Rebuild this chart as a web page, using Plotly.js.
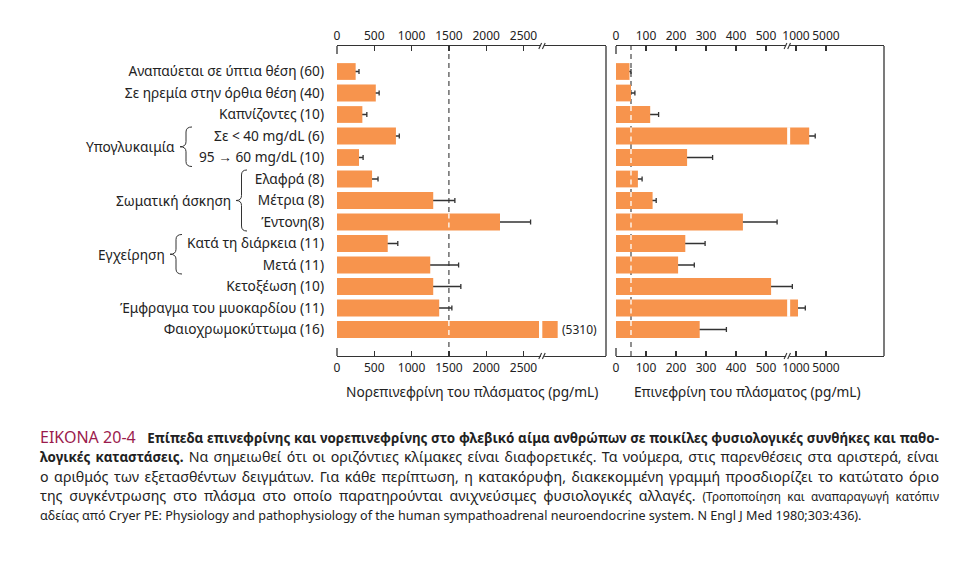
<!DOCTYPE html>
<html><head><meta charset="utf-8">
<script src="https://cdn.plot.ly/plotly-3.0.1.min.js"></script>
<style>html,body{margin:0;padding:0;background:#fff}#chart{width:971px;height:569px}</style>
</head><body><div id="chart"></div>
<script>
// ---------- DATA ----------
const categories = [
  "Αναπαύεται σε ύπτια θέση (60)",
  "Σε ηρεμία στην όρθια θέση (40)",
  "Καπνίζοντες (10)",
  "Σε &lt; 40 mg/dL (6)",
  "95 → 60 mg/dL (10)",
  "Ελαφρά (8)",
  "Μέτρια (8)",
  "Έντονη(8)",
  "Κατά τη διάρκεια (11)",
  "Μετά (11)",
  "Κετοξέωση (10)",
  "Έμφραγμα του μυοκαρδίου (11)",
  "Φαιοχρωμοκύττωμα (16)"
];
const norepinephrine    = [250, 520, 340, 790, 295, 470, 1290, 2185, 680, 1250, 1290, 1370, 5310];
const norepinephrineErr = [45, 45, 60, 45, 55, 80, 290, 410, 135, 380, 370, 170, 0];
const epinephrine       = [45, 50, 114, 2030, 237, 73, 122, 423, 231, 207, 517, 1114, 279];
const epinephrineErr    = [5, 13, 28, 776, 85, 14, 12, 114, 66, 54, 304, 534, 89];
const leftTicks  = [0, 500, 1000, 1500, 2000, 2500];
const rightTicks = [0, 100, 200, 300, 400, 500, 1000, 5000];
const leftThreshold = 1500;
const rightThreshold = 50;
const groupLabels = ["Υπογλυκαιμία", "Σωματική άσκηση", "Εγχείρηση"];
const groupFrom = [3, 5, 8];
const groupTo   = [4, 7, 9];
const labelBig = "(5310)";
const leftTitle = "Νορεπινεφρίνη του πλάσματος (pg/mL)";
const rightTitle = "Επινεφρίνη του πλάσματος (pg/mL)";
const captionLines = [
  "<span style='color:#9b1b4d;font-size:16px'>ΕΙΚΟΝΑ 20-4</span>&nbsp;&nbsp;&nbsp;<b style='font-size:13.4px'>Επίπεδα επινεφρίνης και νορεπινεφρίνης στο φλεβικό αίμα ανθρώπων σε ποικίλες φυσιολογικές συνθήκες και παθο-</b>",
  "<b style='font-size:13.4px'>λογικές καταστάσεις.</b> Να σημειωθεί ότι οι οριζόντιες κλίμακες είναι διαφορετικές. Τα νούμερα, στις παρενθέσεις στα αριστερά, είναι",
  "ο αριθμός των εξετασθέντων δειγμάτων. Για κάθε περίπτωση, η κατακόρυφη, διακεκομμένη γραμμή προσδιορίζει το κατώτατο όριο",
  "της συγκέντρωσης στο πλάσμα στο οποίο παρατηρούνται ανιχνεύσιμες φυσιολογικές αλλαγές. <span style='font-size:11.8px'>(Τροποποίηση και αναπαραγωγή κατόπιν</span>",
  "<span style='font-size:12.6px'>αδείας από Cryer PE: Physiology and pathophysiology of the human sympathoadrenal neuroendocrine system. N Engl J Med 1980;303:436).</span>"
];

// ---------- BROKEN-AXIS SCALES ----------
const L_BRK = 2750, L_K = 0.0813;
function fL(v){ return v <= L_BRK ? v : L_BRK + (v - L_BRK) * L_K; }
const R_BRK = 575, R_DEC = 143;
function fR(v){ return v <= R_BRK ? v : 600 + R_DEC * Math.log10(v / 1000); }

// ---------- GEOMETRY ----------
const W = 971, H = 569;
const px = x => x / W, py = y => 1 - y / H;
const TOP = 46, BOT = 356;
const LX0 = 337, LX1 = 606, RX0 = 616, RX1 = 884;
const ROW0 = 71.5, ROWH = 21.5;
const yTop = -(ROW0 - TOP) / ROWH;
const yBot = (BOT - ROW0) / ROWH;
const LRANGE = [0, (LX1 - LX0) / 0.0746];
const RRANGE = [0, (RX1 - RX0) / 0.3];
const BARW = 0.78;
const ORANGE = '#f7944d', DARK = '#333333', FONT = 'Noto Sans, sans-serif';
const CAP_LEFT = 38, CAP_RIGHT = 937;

const idx = categories.map((_, i) => i);
const errMapped = (vals, errs, f) => vals.map((v, i) => errs[i] > 0 ? f(v + errs[i]) - f(v) : NaN);

const traces = [
  {type:'bar', orientation:'h', x: norepinephrine.map(fL), y: idx, xaxis:'x', yaxis:'y', width: BARW,
   marker:{color:'rgba(0,0,0,0)'}, hoverinfo:'skip', showlegend:false,
   error_x:{type:'data', symmetric:true, array: errMapped(norepinephrine, norepinephrineErr, fL), color:DARK, thickness:1.3, width:2.5}},
  {type:'bar', orientation:'h', x: norepinephrine.map(fL), y: idx, xaxis:'x', yaxis:'y', width: BARW,
   marker:{color:ORANGE}, showlegend:false, text: norepinephrine.map(String), hoverinfo:'text', textposition:'none'},
  {type:'bar', orientation:'h', x: epinephrine.map(fR), y: idx, xaxis:'x2', yaxis:'y2', width: BARW,
   marker:{color:'rgba(0,0,0,0)'}, hoverinfo:'skip', showlegend:false,
   error_x:{type:'data', symmetric:true, array: errMapped(epinephrine, epinephrineErr, fR), color:DARK, thickness:1.3, width:2.5}},
  {type:'bar', orientation:'h', x: epinephrine.map(fR), y: idx, xaxis:'x2', yaxis:'y2', width: BARW,
   marker:{color:ORANGE}, showlegend:false, text: epinephrine.map(String), hoverinfo:'text', textposition:'none'},
  {type:'scatter', x:[], y:[], xaxis:'x3', yaxis:'y', showlegend:false, hoverinfo:'skip'},
  {type:'scatter', x:[], y:[], xaxis:'x4', yaxis:'y2', showlegend:false, hoverinfo:'skip'}
];

const axBase = {showgrid:false, zeroline:false, showline:true, linecolor:DARK, linewidth:1.3,
  ticks:'inside', ticklen:5, tickcolor:DARK, tickwidth:1.2, autorange:false,
  tickfont:{family:FONT, size:12, color:'#222'}, fixedrange:true};

const layout = {
  width: W, height: H, margin:{l:0, r:0, t:0, b:0}, paper_bgcolor:'#fff', plot_bgcolor:'rgba(0,0,0,0)',
  barmode:'overlay', showlegend:false, font:{family:FONT, color:'#222'},
  xaxis: Object.assign({}, axBase, {domain:[px(LX0), px(LX1)], range:LRANGE, anchor:'y', side:'bottom',
    tickvals: leftTicks.map(fL), ticktext: leftTicks.map(String)}),
  xaxis3: Object.assign({}, axBase, {domain:[px(LX0), px(LX1)], range:LRANGE, anchor:'y', side:'top', overlaying:'x',
    tickvals: leftTicks.map(fL), ticktext: leftTicks.map(String)}),
  xaxis2: Object.assign({}, axBase, {domain:[px(RX0), px(RX1)], range:RRANGE, anchor:'y2', side:'bottom',
    tickvals: rightTicks.map(fR), ticktext: rightTicks.map(String)}),
  xaxis4: Object.assign({}, axBase, {domain:[px(RX0), px(RX1)], range:RRANGE, anchor:'y2', side:'top', overlaying:'x2',
    tickvals: rightTicks.map(fR), ticktext: rightTicks.map(String)}),
  yaxis: {domain:[py(BOT), py(TOP)], range:[yBot, yTop], anchor:'x', autorange:false, showgrid:false, zeroline:false,
    showline:false, ticks:'', tickvals: idx, ticktext: categories, ticklabelstandoff: 12,
    tickfont:{family:FONT, size:13.7, color:'#222'}, fixedrange:true},
  yaxis2: {domain:[py(BOT), py(TOP)], range:[yBot, yTop], anchor:'x2', autorange:false, showgrid:false, zeroline:false,
    showline:false, showticklabels:false, ticks:'', fixedrange:true},
  shapes: [], annotations: []
};

const S = layout.shapes, A = layout.annotations;
const pline = (x0, y0, x1, y1, w, c) => S.push({type:'line', xref:'paper', yref:'paper', x0:px(x0), y0:py(y0), x1:px(x1), y1:py(y1), line:{color:c||DARK, width:w||1.3}});

// panel right borders and zero edge ticks
pline(LX1, TOP, LX1, BOT); pline(RX1, TOP, RX1, BOT);
[LX0, RX0].forEach(x => { pline(x, TOP, x, TOP + 8); pline(x, BOT - 8, x, BOT); });

// threshold dashed lines
[[leftThreshold, 'x', 'y', norepinephrine, fL], [rightThreshold, 'x2', 'y2', epinephrine, fR]].forEach(([thr, xr, yr, vals, f]) => {
  S.push({type:'line', xref:xr, yref:'paper', x0:f(thr), x1:f(thr), y0:py(BOT), y1:py(TOP), layer:'below',
    line:{color:'#555', width:1.3, dash:'5px,4px'}});
  vals.forEach((v, i) => { if (v > thr) S.push({type:'line', xref:xr, yref:yr, x0:f(thr), x1:f(thr), y0:i - BARW/2, y1:i + BARW/2,
    line:{color:'#fff', width:1.3, dash:'5px,4px'}}); });
});

// white gaps through bars crossing an axis break
norepinephrine.forEach((v, i) => { if (fL(v) > L_BRK) S.push({type:'rect', xref:'x', yref:'y', x0:2708, x1:2752, y0:i - BARW/2 - 0.02, y1:i + BARW/2 + 0.02, line:{width:0}, fillcolor:'#fff'}); });
epinephrine.forEach((v, i) => { if (fR(v) > R_BRK) S.push({type:'rect', xref:'x2', yref:'y2', x0:570.5, x1:580.5, y0:i - BARW/2 - 0.02, y1:i + BARW/2 + 0.02, line:{width:0}, fillcolor:'#fff'}); });

// axis break marks
[543, 788.3].forEach(bx => [TOP, BOT].forEach(by => {
  S.push({type:'rect', xref:'paper', yref:'paper', x0:px(bx - 2.2), x1:px(bx + 1.2), y0:py(by + 1.2), y1:py(by - 1.2), line:{width:0}, fillcolor:'#fff'});
  pline(bx - 4.2, by + 3, bx - 1.4, by - 3, 1.1);
  pline(bx - 0.6, by + 3, bx + 2.2, by - 3, 1.1);
}));

// group braces and labels
const braceX = [[180, 192], [236, 247], [170, 182]];
groupLabels.forEach((g, k) => {
  const yt = ROW0 + (groupFrom[k] - 0.42) * ROWH, yb = ROW0 + (groupTo[k] + 0.42) * ROWH, ym = (yt + yb) / 2;
  const [x0, x1] = braceX[k], xm = (x0 + x1) / 2, r = 5;
  const P = (x, y) => px(x) + ',' + py(y);
  const path = 'M' + P(x1, yt) + ' Q' + P(xm, yt) + ' ' + P(xm, yt + r) + ' L' + P(xm, ym - r) +
    ' Q' + P(xm, ym) + ' ' + P(x0, ym) + ' Q' + P(xm, ym) + ' ' + P(xm, ym + r) + ' L' + P(xm, yb - r) +
    ' Q' + P(xm, yb) + ' ' + P(x1, yb);
  S.push({type:'path', xref:'paper', yref:'paper', path: path, line:{color:DARK, width:1.0}});
  A.push({xref:'paper', yref:'paper', x:px(x0 - 3), y:py(ym), xanchor:'right', yanchor:'middle', showarrow:false,
    text:g, font:{family:FONT, size:13.7, color:'#222'}});
});

// value label for off-scale bar
A.push({xref:'x', yref:'y', x:fL(norepinephrine[12]), y:12, xanchor:'left', yanchor:'middle', xshift:2, showarrow:false,
  text:labelBig, font:{family:FONT, size:12, color:'#222'}});

// axis titles
A.push({xref:'paper', yref:'paper', x:px((LX0 + LX1) / 2), y:py(391), xanchor:'center', yanchor:'middle', showarrow:false,
  text:leftTitle, font:{family:FONT, size:13.7, color:'#222'}});
A.push({xref:'paper', yref:'paper', x:px((RX0 + RX1) / 2 - 3), y:py(391), xanchor:'center', yanchor:'middle', showarrow:false,
  text:rightTitle, font:{family:FONT, size:13.7, color:'#222'}});

// caption
const capY = [437, 456.5, 476, 495.5, 515];
captionLines.forEach((t, k) => A.push({xref:'paper', yref:'paper', x:px(CAP_LEFT), y:py(capY[k]), xanchor:'left', yanchor:'middle',
  showarrow:false, align:'left', text:t, font:{family:FONT, size:14.2, color:'#222'}}));

Plotly.newPlot('chart', traces, layout, {displayModeBar:false, staticPlot:true}).then(gd => {
  // justify caption lines (all but the last) to the caption width, like the printed figure
  const anns = Array.from(gd.querySelectorAll('.annotation'));
  const caps = anns.slice(anns.length - captionLines.length);
  caps.forEach((g, k) => {
    if (k === caps.length - 1) return;
    const t = g.querySelector('text.annotation-text');
    if (!t) return;
    const w0 = t.getBBox().width;
    const n = (t.textContent.match(/[ \u00a0]/g) || []).length;
    const extra = (CAP_RIGHT - CAP_LEFT) - w0;
    if (n > 0 && extra > 0) t.style.wordSpacing = (extra / n) + 'px';
  });
});
</script></body></html>
